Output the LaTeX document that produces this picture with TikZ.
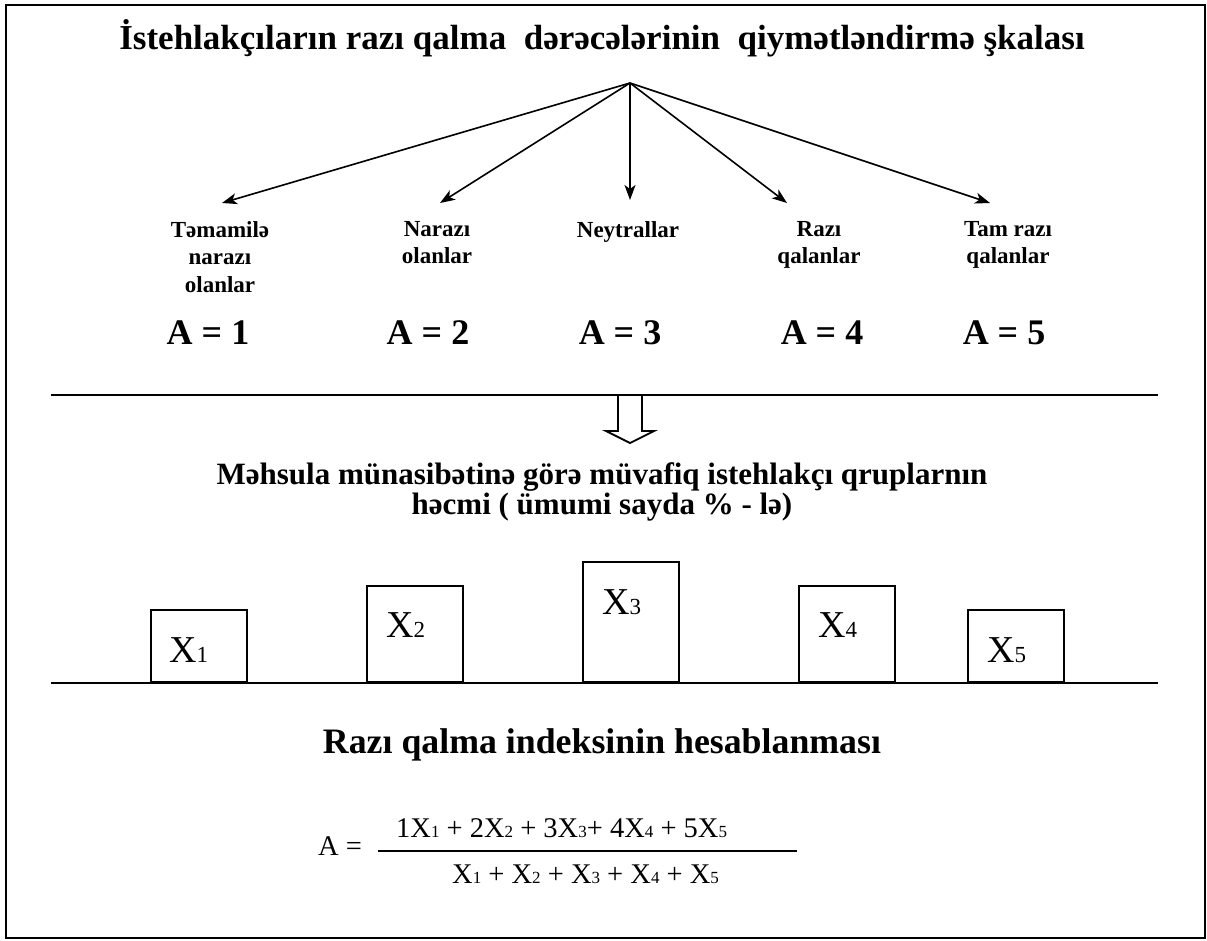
\documentclass[tikz,border=0pt]{standalone}
\usepackage{fontspec}
\setmainfont{Liberation Serif}
\usetikzlibrary{arrows.meta}
% subscript digits set on the baseline in a smaller size
\newcommand{\lowdigit}[2]{{\fontsize{#1}{#1}\selectfont #2}}
\newcommand{\fx}[1]{X\lowdigit{17}{#1}}
\newcommand{\bx}[1]{X\lowdigit{23}{#1}}
\tikzset{
  heading/.style={inner sep=0pt, font=\fontsize{35}{40}\selectfont\bfseries, align=center},
  grade/.style={inner sep=0pt, font=\fontsize{23}{27.5}\selectfont\bfseries, align=center, anchor=north},
  score/.style={inner sep=0pt, font=\fontsize{36}{40}\selectfont\bfseries, anchor=base},
  bar/.style={draw, line width=1.6pt, minimum width=96pt, anchor=south west, inner sep=0pt},
  barlabel/.style={inner sep=0pt, font=\fontsize{38}{40}\selectfont, anchor=base west},
  formula/.style={inner sep=0pt, font=\fontsize{28.5}{32}\selectfont, anchor=base west},
  rule/.style={line width=2pt},
  spoke/.style={line width=1.6pt, -{Stealth[length=15pt,width=11pt,inset=4pt]}}
}
\begin{document}
\begin{tikzpicture}[x=1pt,y=-1pt]
\useasboundingbox (0,0) rectangle (1207,940);
% outer frame
\draw[line width=2.2pt] (6,5) rectangle (1205,938);

% rating scale
\node[heading, anchor=base] (title) at (602,49)
  {İstehlakçıların razı qalma\ \ dərəcələrinin\ \ qiymətləndirmə şkalası};
\coordinate (hub) at (630,83);
\node[grade] (g1) at (220,221) {Təmamilə\\narazı\\olanlar};
\node[grade] (g2) at (437,221) {Narazı\\olanlar};
\node[grade] (g3) at (628,221) {Neytrallar};
\node[grade] (g4) at (819,221) {Razı\\qalanlar};
\node[grade] (g5) at (1008,221) {Tam razı\\qalanlar};
\coordinate (t1) at (222,203);
\coordinate (t2) at (440,203);
\coordinate (t3) at (630,200);
\coordinate (t4) at (787,203);
\coordinate (t5) at (990,203);
\foreach \i in {1,...,5} \draw[spoke] (hub) -- (t\i);

\node[score] (a1) at (208,344) {A = 1};
\node[score] (a2) at (428,344) {A = 2};
\node[score] (a3) at (620,344) {A = 3};
\node[score] (a4) at (822,344) {A = 4};
\node[score] (a5) at (1004,344) {A = 5};

% upper rule and hollow arrow
\coordinate (r1l) at (51,395);
\coordinate (r1r) at (1158,395);
\draw[rule] (r1l) -- (r1r);
\coordinate (sl) at (618,395);
\coordinate (sr) at (642,395);
\draw[line width=1.8pt, line join=miter] (sl) -- (618,431) -- (606,431) -- (630,443)
  -- (654,431) -- (642,431) -- (sr);

% group sizes (base anchor sits on the last line)
\node[heading, anchor=base, font=\fontsize{31}{28}\selectfont\bfseries] (sub) at (602,514)
  {Məhsula münasibətinə görə müvafiq istehlakçı qruplarnın\\həcmi ( ümumi sayda \% - lə)};

\node[bar, minimum height=72pt] (b1) at (150,683) {};
\node[bar, minimum height=96pt] (b2) at (366,683) {};
\node[bar, minimum height=120pt] (b3) at (582,683) {};
\node[bar, minimum height=96pt] (b4) at (798,683) {};
\node[bar, minimum height=72pt] (b5) at (967,683) {};
\node[barlabel] (x1) at (169,662) {\bx{1}};
\node[barlabel] (x2) at (386,637) {\bx{2}};
\node[barlabel] (x3) at (602,614) {\bx{3}};
\node[barlabel] (x4) at (818,637) {\bx{4}};
\node[barlabel] (x5) at (987,662) {\bx{5}};

\coordinate (r2l) at (51,683);
\coordinate (r2r) at (1158,683);
\draw[rule] (r2l) -- (r2r);

% satisfaction index
\node[heading, anchor=base, font=\fontsize{35.8}{40}\selectfont\bfseries] (idx) at (602,753)
  {Razı qalma indeksinin hesablanması};
\node[formula] (lhs) at (318,855) {A =};
\node[formula] (num) at (396,837) {1\fx{1} + 2\fx{2} + 3\fx{3}+ 4\fx{4} + 5\fx{5}};
\coordinate (fl) at (378,851);
\coordinate (fr) at (797,851);
\draw[line width=1.5pt] (fl) -- (fr);
\node[formula] (den) at (452,883) {\fx{1} + \fx{2} + \fx{3} + \fx{4} + \fx{5}};
\end{tikzpicture}
\end{document}
